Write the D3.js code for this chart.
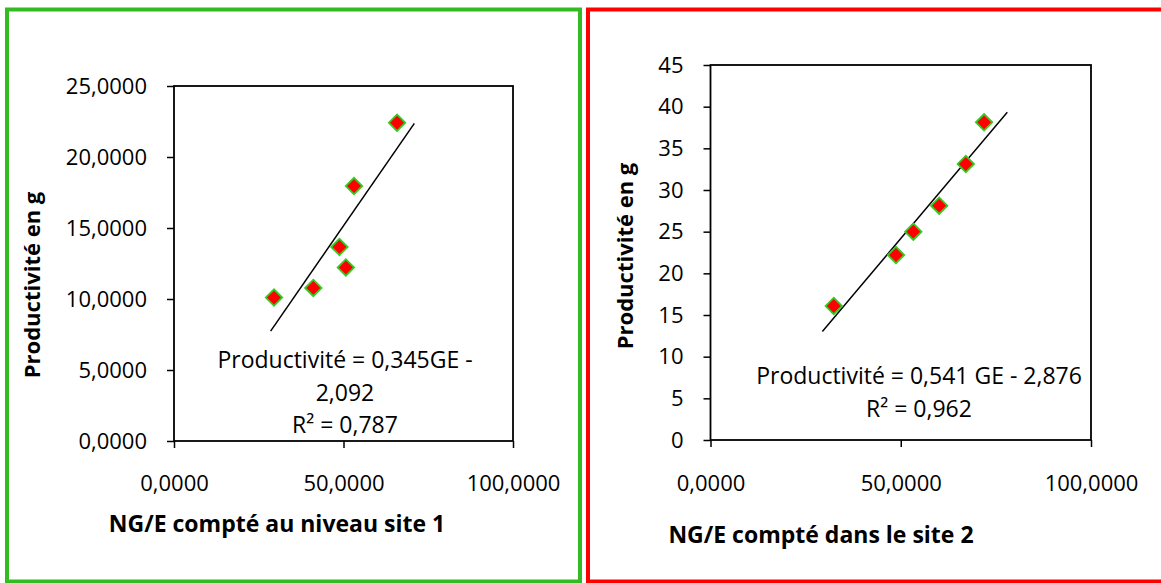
<!DOCTYPE html>
<html>
<head>
<meta charset="utf-8">
<script src="https://cdn.jsdelivr.net/npm/d3@7"></script>
<style>
  body { margin: 0; background: #fff; }
  svg text { font-family: "Open Sans", Lato, sans-serif; fill: #000; }
</style>
</head>
<body>
<svg id="chart" width="1161" height="583"></svg>
<script>
// site 1 (left panel)
const site1X = [29.5, 41.1, 48.8, 50.7, 53.1, 65.8]
const site1Y = [10.1, 10.78, 13.67, 12.22, 17.95, 22.41]
const trend1X = [28.5, 70.9]
const trend1Y = [7.74, 22.37]
const yTicks1 = [0, 5, 10, 15, 20, 25]
const eq1 = ["Productivité = 0,345GE -", "2,092", "R² = 0,787"]

// site 2 (right panel)
const site2X = [32.4, 48.75, 53.3, 60.1, 67.1, 71.9]
const site2Y = [16.08, 22.2, 25.0, 28.12, 33.12, 38.12]
const trend2X = [29.4, 78.0]
const trend2Y = [13.03, 39.32]
const yTicks2 = [0, 5, 10, 15, 20, 25, 30, 35, 40, 45]
const eq2 = ["Productivité = 0,541 GE - 2,876", "R² = 0,962"]

const xTicks = [0, 50, 100]
const yTitle = "Productivité en g"
const xTitle1 = "NG/E compté au niveau site 1"
const xTitle2 = "NG/E compté dans le site 2"

const fr = d3.formatLocale({decimal: ",", thousands: " ", grouping: [3], currency: ["", ""]})
const f4 = fr.format(".4f")
const f0 = fr.format("d")

const svg = d3.select("#chart")

// panel frames
svg.append("rect").attr("x", 7).attr("y", 9.5).attr("width", 573).attr("height", 572)
  .attr("fill", "none").attr("stroke", "#33bb22").attr("stroke-width", 4)
svg.append("rect").attr("x", 588).attr("y", 9.5).attr("width", 600).attr("height", 572)
  .attr("fill", "none").attr("stroke", "#ff0000").attr("stroke-width", 4)

function drawPanel(p) {
  const x = d3.scaleLinear().domain([0, 100]).range([p.left, p.right])
  const y = d3.scaleLinear().domain([0, p.yMax]).range([p.bottom, p.top])

  const g = svg.append("g")

  g.append("g")
    .attr("transform", `translate(${p.left},0)`)
    .call(d3.axisLeft(y).tickValues(p.yTicks).tickSize(7).tickPadding(20).tickFormat(p.yFmt))
    .call(a => a.select(".domain").remove())
    .call(a => a.selectAll("line").attr("stroke", "#000").attr("stroke-width", 1.5))
    .call(a => a.selectAll("text").attr("font-size", 22).attr("font-family", null).attr("fill", "#000"))

  g.append("g")
    .attr("transform", `translate(0,${p.bottom})`)
    .call(d3.axisBottom(x).tickValues(xTicks).tickSize(7).tickPadding(p.xPad).tickFormat(f4))
    .call(a => a.select(".domain").remove())
    .call(a => a.selectAll("line").attr("stroke", "#000").attr("stroke-width", 1.5))
    .call(a => a.selectAll("text").attr("font-size", 22).attr("font-family", null).attr("fill", "#000"))

  // plot area box
  g.append("rect")
    .attr("x", p.left).attr("y", p.top)
    .attr("width", p.right - p.left).attr("height", p.bottom - p.top)
    .attr("fill", "none").attr("stroke", "#000").attr("stroke-width", 1.8)

  // trend line
  g.append("line")
    .attr("x1", x(p.tx[0])).attr("y1", y(p.ty[0]))
    .attr("x2", x(p.tx[1])).attr("y2", y(p.ty[1]))
    .attr("stroke", "#000").attr("stroke-width", 1.5)

  // points
  const pts = d3.zip(p.xs, p.ys)
  g.append("g").selectAll("path")
    .data(pts)
    .enter().append("path")
    .attr("d", d3.symbol(d3.symbolSquare, 135))
    .attr("transform", d => `translate(${x(d[0])},${y(d[1])}) rotate(45)`)
    .attr("fill", "#ff0000")
    .attr("stroke", "#33cc22")
    .attr("stroke-width", 1.8)

  // equation, centred lines
  g.append("g").selectAll("text")
    .data(p.eq)
    .enter().append("text")
    .attr("x", p.eqX)
    .attr("y", (d, i) => p.eqY[i])
    .attr("text-anchor", "middle")
    .attr("font-size", 23)
    .text(d => d)

  g.append("text")
    .attr("x", p.xtX).attr("y", p.xtY)
    .attr("text-anchor", "middle")
    .attr("font-size", 23).attr("font-weight", "bold")
    .text(p.xTitle)

  g.append("text")
    .attr("transform", `translate(${p.ytX},${p.ytY}) rotate(-90)`)
    .attr("text-anchor", "middle")
    .attr("font-size", 22).attr("font-weight", "bold")
    .text(yTitle)
}

drawPanel({
  left: 174, right: 513, top: 86, bottom: 441, yMax: 25,
  yTicks: yTicks1, yFmt: f4, xPad: 27,
  xs: site1X, ys: site1Y, tx: trend1X, ty: trend1Y,
  eq: eq1, eqX: 345, eqY: [368, 401, 433],
  xTitle: xTitle1, xtX: 277, xtY: 532, ytX: 40, ytY: 285
})

drawPanel({
  left: 710.5, right: 1091, top: 65, bottom: 440, yMax: 45,
  yTicks: yTicks2, yFmt: f0, xPad: 28,
  xs: site2X, ys: site2Y, tx: trend2X, ty: trend2Y,
  eq: eq2, eqX: 919, eqY: [384, 417],
  xTitle: xTitle2, xtX: 821, xtY: 543, ytX: 633, ytY: 256
})
</script>
</body>
</html>
